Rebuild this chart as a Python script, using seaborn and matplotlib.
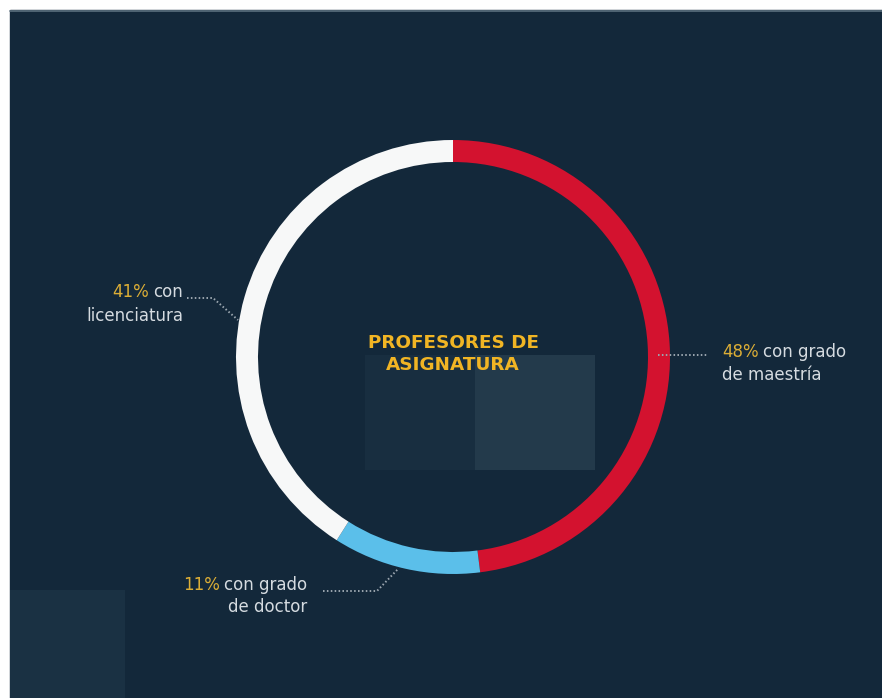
import matplotlib.pyplot as plt
import seaborn as sns
from matplotlib.patches import Rectangle

# data
categories = ["con grado de maestría", "con grado de doctor", "con licenciatura"]
shares = [48, 11, 41]
first_lines = ["con grado", "con grado", "con"]
second_lines = ["de maestría", "de doctor", "licenciatura"]
ring_colors = ["#d3122f", "#5bbfea", "#f7f8f8"]
title = "PROFESORES DE\nASIGNATURA"

sns.set_theme(style="white")
plt.rcParams["font.family"] = ["DejaVu Sans"]

W, H = 882, 698
BG = "#13283a"
GREY_TXT = "#d5dbe0"
PCT_YELLOW = "#dcae36"
TITLE_YELLOW = "#f1b524"
DOTS = "#9ba6af"

fig = plt.figure(figsize=(W / 100, H / 100), dpi=100, facecolor="white")
ax = fig.add_axes([0, 0, 1, 1])


def Y(y_img):
    # image rows (top down) -> data y (bottom up)
    return H - y_img


# background panel with a white margin on top and left
ax.add_patch(Rectangle((10, 0), W - 10, H - 10, color=BG, zorder=0))
ax.plot([10, W], [Y(10.5), Y(10.5)], color="#5b6f7e", lw=1.2, zorder=1)
# a few faint texture blocks
for (x0, y0, x1, y1, c) in [(365, 355, 475, 470, "#182e40"),
                            (475, 355, 595, 470, "#233a4b"),
                            (10, 590, 125, 698, "#1a3143")]:
    ax.add_patch(Rectangle((x0, Y(y1)), x1 - x0, y1 - y0, color=c, zorder=0.5, lw=0))

# ring
cx, cy, R, ring_w = 453, Y(357), 217, 22
ax.pie(shares, colors=ring_colors, startangle=90, counterclock=False,
       center=(cx, cy), radius=R,
       wedgeprops=dict(width=ring_w, edgecolor="none", linewidth=0))

ax.text(cx, Y(354), title, ha="center", va="center", color=TITLE_YELLOW,
        fontsize=13.2, fontweight="bold", linespacing=1.25, zorder=5)

# label layout: anchor x, baselines, alignment, leader polyline
label_layout = [
    dict(x=722, y1=357, y2=380, ha="left",
         leader=[(658, 355), (708, 355)]),
    dict(x=307, y1=590, y2=612, ha="right",
         leader=[(323, 591), (377, 591), (398, 569)]),
    dict(x=183, y1=297, y2=321, ha="right",
         leader=[(187, 298), (213, 298), (238, 320)]),
]

fs = 12
for share, l1, l2, lay in zip(shares, first_lines, second_lines, label_layout):
    pct = f"{share}%"
    if lay["ha"] == "left":
        t = ax.text(lay["x"], Y(lay["y1"]), pct, ha="left", va="baseline",
                    color=PCT_YELLOW, fontsize=fs, zorder=5)
        ax.annotate(l1, xy=(1, 0), xycoords=t, xytext=(3, 0),
                    textcoords="offset points", ha="left", va="bottom",
                    color=GREY_TXT, fontsize=fs, zorder=5)
    else:
        t = ax.text(lay["x"], Y(lay["y1"]), l1, ha="right", va="baseline",
                    color=GREY_TXT, fontsize=fs, zorder=5)
        ax.annotate(pct, xy=(0, 0), xycoords=t, xytext=(-3, 0),
                    textcoords="offset points", ha="right", va="bottom",
                    color=PCT_YELLOW, fontsize=fs, zorder=5)
    ax.text(lay["x"], Y(lay["y2"]), l2, ha=lay["ha"], va="baseline",
            color=GREY_TXT, fontsize=fs, zorder=5)
    xs = [p[0] for p in lay["leader"]]
    ys = [Y(p[1]) for p in lay["leader"]]
    ax.plot(xs, ys, color=DOTS, lw=1.4, ls=(0, (0.8, 1.2)), zorder=6)

ax.set_xlim(0, W)
ax.set_ylim(0, H)
ax.set_aspect("equal")
ax.axis("off")

fig.savefig("out.png", dpi=100, facecolor="white")
